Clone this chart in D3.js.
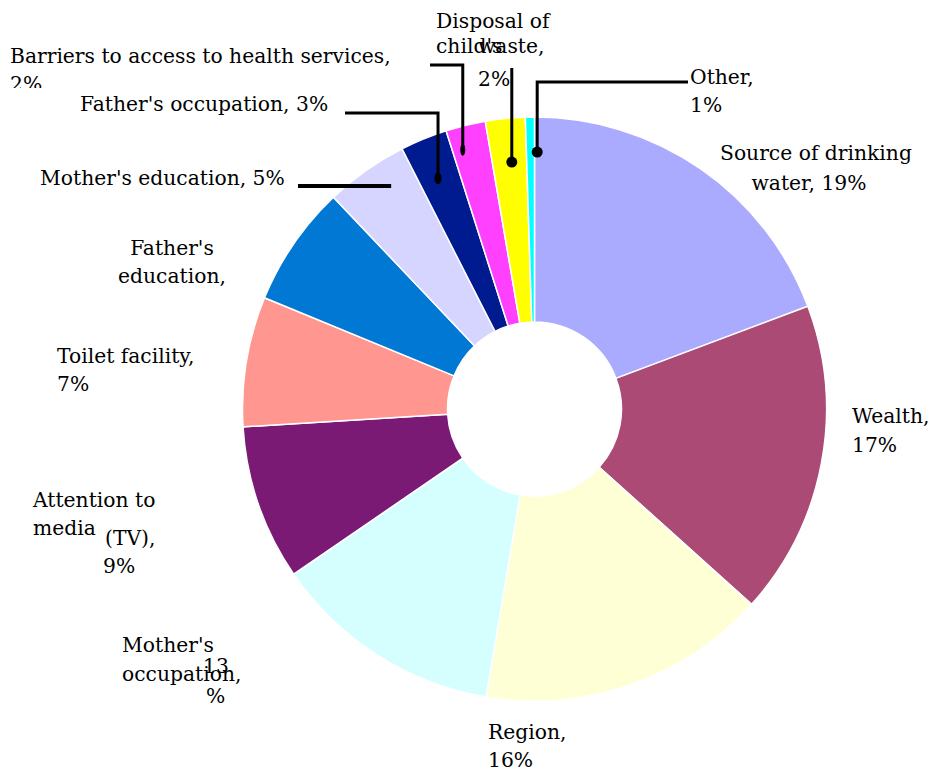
<!DOCTYPE html>
<html>
<head>
<meta charset="utf-8">
<script src="https://cdn.jsdelivr.net/npm/d3@7/dist/d3.min.js"></script>
<style>
  html, body { margin: 0; padding: 0; background: #fff; }
  svg { display: block; }
  text { font-family: "DejaVu Serif", "Liberation Serif", serif; font-size: 20.3px; fill: #000; }
</style>
</head>
<body>
<svg id="chart" width="937" height="772"></svg>
<script>
// ---- data ----
const categories = ["Source of drinking water", "Wealth", "Region", "Mother's occupation",
  "Attention to media (TV)", "Toilet facility", "Father's education", "Mother's education",
  "Father's occupation", "Barriers to access to health services", "Disposal of child's waste", "Other"];
const values = [19.3, 17.4, 16.0, 12.8, 8.6, 7.2, 6.7, 4.6, 2.6, 2.2, 2.2, 0.5];
const percentLabels = ["19%", "17%", "16%", "13%", "9%", "7%", "", "5%", "3%", "2%", "2%", "1%"];
const colors = ["#AAAAFF", "#AA4A75", "#FFFFD5", "#D5FFFF", "#7A1A75", "#FF968F",
  "#0078D4", "#D5D5FF", "#001A8F", "#FF40FF", "#FFFF00", "#00FFFF"];

// ---- layout ----
const cx = 534.5, cy = 409, rOuter = 292, rInner = 87;
// label text pieces: [category index, text, x, y, anchor]
const labelLayout = [
  [0, "Source of drinking", 720, 160, "start"],
  [0, "water, 19%", 809, 190, "middle"],
  [1, "Wealth,", 852, 423, "start"],
  [1, "17%", 852, 452, "start"],
  [2, "Region,", 488, 739, "start"],
  [2, "16%", 488, 767, "start"],
  [3, "Mother's", 122, 652, "start"],
  [3, "occupation,", 122, 681, "start"],
  [3, "13", 203, 673, "start"],
  [3, "%", 206, 703, "start"],
  [4, "Attention to", 33, 507, "start"],
  [4, "media", 33, 535, "start"],
  [4, "(TV),", 105, 545, "start"],
  [4, "9%", 103, 573, "start"],
  [5, "Toilet facility,", 57, 363, "start"],
  [5, "7%", 57, 391, "start"],
  [6, "Father's", 172, 255, "middle"],
  [6, "education,", 172, 283, "middle"],
  [7, "Mother's education, 5%", 40, 185, "start"],
  [8, "Father's occupation, 3%", 80, 111, "start"],
  [9, "Barriers to access to health services,", 10, 63, "start"],
  [9, "2%", 10, 91, "start"],
  [10, "Disposal of", 436, 28, "start"],
  [10, "child's", 436, 53, "start"],
  [10, "waste,", 478, 53, "start"],
  [10, "2%", 478, 86, "start"],
  [11, "Other,", 690, 84, "start"],
  [11, "1%", 690, 112, "start"]
];
// leader lines: [category index, angle offset (deg), radius of anchor, elbow y (null = horizontal only), end x (null = vertical only), dot rx, dot ry]
const leaders = [
  [7, 2.5, 265, null, 298, 0, 0],
  [8, -0.4, 250, 113, 345, 3.5, 6],
  [9, -1.8, 269, 65, 430, 2.5, 6],
  [10, 0.5, 248, 68, null, 5.5, 5.5],
  [11, 1.5, 257, 82, 688, 5.5, 5.5]
];

const svg = d3.select("#chart");
const g = svg.append("g").attr("transform", `translate(${cx},${cy})`);

const pie = d3.pie().sort(null).value(d => d)(values);
const arc = d3.arc().innerRadius(rInner).outerRadius(rOuter);

g.selectAll("path.slice").data(pie).join("path")
  .attr("class", "slice")
  .attr("d", arc)
  .attr("fill", (d, i) => colors[i])
  .attr("stroke", "#fff")
  .attr("stroke-width", 1.5);

// leader lines
const lg = svg.append("g");
leaders.forEach(([i, off, r, elbowY, endX, rx, ry]) => {
  const a = (pie[i].startAngle + pie[i].endAngle) / 2 + off * Math.PI / 180;
  const px = cx + r * Math.sin(a), py = cy - r * Math.cos(a);
  let pts;
  if (elbowY === null) pts = [[px, py], [endX, py]];
  else if (endX === null) pts = [[px, py], [px, elbowY]];
  else pts = [[px, py], [px, elbowY], [endX, elbowY]];
  lg.append("path")
    .attr("d", d3.line()(pts))
    .attr("fill", "none")
    .attr("stroke", "#000")
    .attr("stroke-width", elbowY === null ? 4 : 3);
  if (rx > 0) {
    lg.append("ellipse").attr("cx", px).attr("cy", py).attr("rx", rx).attr("ry", ry).attr("fill", "#000");
  }
});

// clip for the partially hidden "2%" of Barriers
svg.append("clipPath").attr("id", "clipTop")
  .append("rect").attr("x", 0).attr("y", 0).attr("width", 937).attr("height", 88);

svg.append("g").selectAll("text").data(labelLayout).join("text")
  .attr("x", d => d[2]).attr("y", d => d[3])
  .attr("text-anchor", d => d[4])
  .attr("clip-path", d => (d[0] === 9 && d[1] === "2%") ? "url(#clipTop)" : null)
  .text(d => d[1]);
</script>
</body>
</html>
